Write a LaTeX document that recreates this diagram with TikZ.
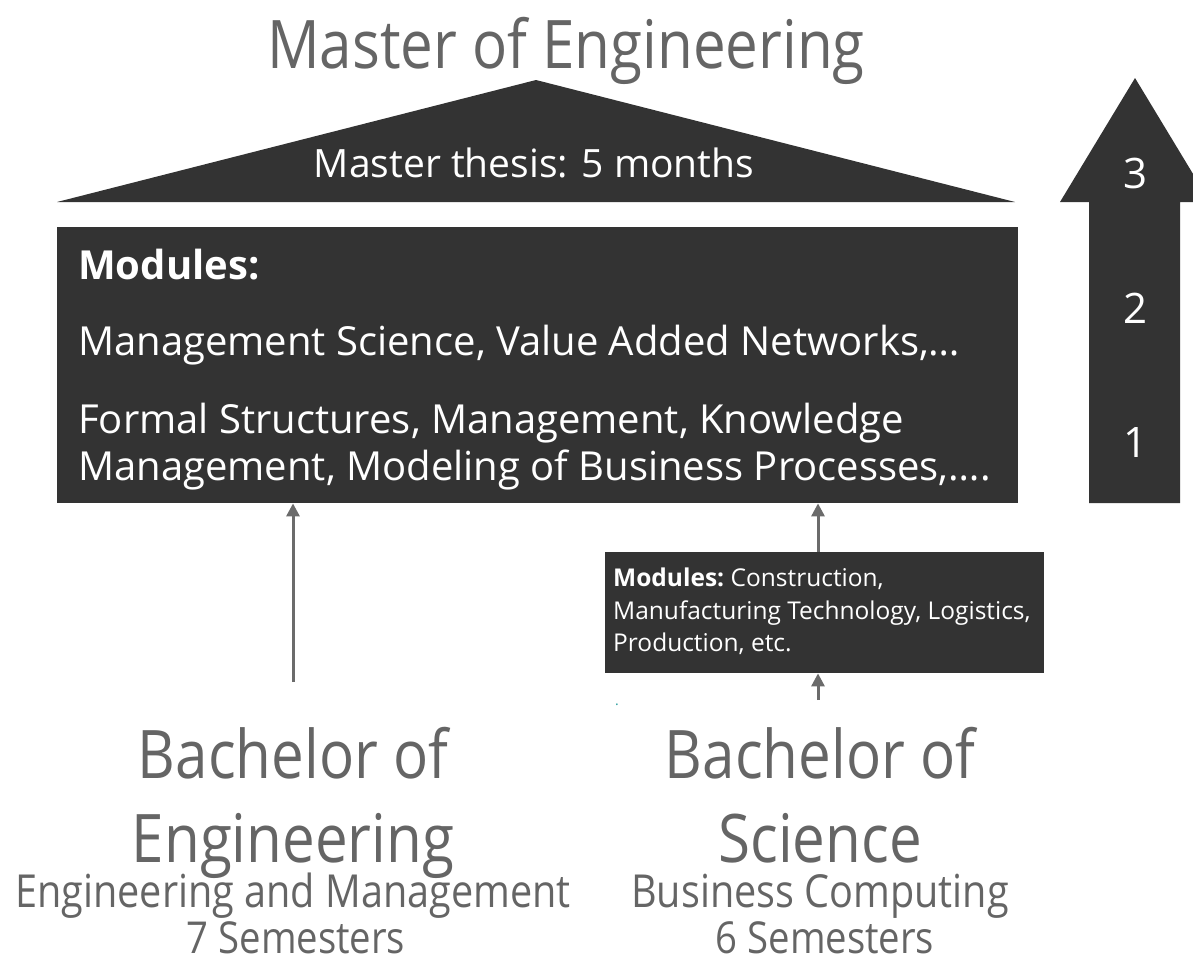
\documentclass[tikz,border=0pt]{standalone}
\usepackage{fontspec}
\setmainfont{Open Sans}
\newfontfamily\narrowfont[FakeStretch=0.87]{Open Sans}
\usetikzlibrary{arrows.meta}
\definecolor{boxdark}{HTML}{333333}
\definecolor{txtgray}{HTML}{656565}
\definecolor{arrgray}{HTML}{6B6B6B}
\definecolor{tealdot}{HTML}{2A9D9D}
\begin{document}
\begin{tikzpicture}[x=1pt,y=-1pt,
  graytxt/.style={text=txtgray,inner sep=0pt,anchor=base},
  whitetxt/.style={text=white,inner sep=0pt,anchor=base west},
  upconn/.style={draw=arrgray,line width=3pt,-{Triangle[length=13pt,width=13pt]}},
  darkshape/.style={fill=boxdark,draw=none}]
\useasboundingbox (0,0) rectangle (1193,962);
% title
\node[graytxt,font=\narrowfont\fontsize{67}{67}\selectfont] (title) at (566,68) {Master of Engineering};
% roof
\fill[darkshape] (57,202) -- (536,80) -- (1015,202) -- cycle;
\node[graytxt,text=white,font=\fontsize{39}{39}\selectfont] (thesis) at (534,177) {Master thesis: 5 months};
% main box
\node[darkshape,minimum width=961pt,minimum height=276pt,anchor=north west,inner sep=0pt] (main) at (57,227) {};
\node[whitetxt,font=\fontsize{40}{40}\selectfont\bfseries] (modA) at (78,279) {Modules:};
\node[whitetxt,font=\fontsize{40}{40}\selectfont] (modB) at (78,355) {Management Science, Value Added Networks,…};
\node[whitetxt,font=\fontsize{40}{40}\selectfont] (modC) at (78,433) {Formal Structures, Management, Knowledge};
\node[whitetxt,font=\fontsize{40}{40}\selectfont] (modD) at (78,480) {Management, Modeling of Business Processes,….};
% small box
\node[darkshape,minimum width=439pt,minimum height=121pt,anchor=north west,inner sep=0pt] (small) at (605,552) {};
\node[whitetxt,font=\fontsize{24.5}{24.5}\selectfont] (smA) at (613,586) {\textbf{Modules:}\hspace{-2pt} Construction,};
\node[whitetxt,font=\fontsize{24.5}{24.5}\selectfont] (smB) at (613,619) {Manufacturing Technology, Logistics,};
\node[whitetxt,font=\fontsize{24.5}{24.5}\selectfont] (smC) at (613,651) {Production, etc.};
\node[text=tealdot,inner sep=0pt,anchor=base,font=\fontsize{14}{14}\selectfont] (dot) at (617,705) {.};
% big arrow
\fill[darkshape] (1089,503) -- (1089,202) -- (1060,202) -- (1135,78) -- (1210,202) -- (1180,202) -- (1180,503) -- cycle;
\node[graytxt,text=white,font=\fontsize{42}{42}\selectfont] (n3) at (1135,188) {3};
\node[graytxt,text=white,font=\fontsize{42}{42}\selectfont] (n2) at (1135,323) {2};
\node[graytxt,text=white,font=\fontsize{42}{42}\selectfont] (n1) at (1135,457) {1};
% bachelor texts
\node[graytxt,font=\narrowfont\fontsize{67}{67}\selectfont] (beA) at (293,778) {Bachelor of};
\node[graytxt,font=\narrowfont\fontsize{67}{67}\selectfont] (beB) at (293,862) {Engineering};
\node[graytxt,font=\narrowfont\fontsize{45.5}{45.5}\selectfont] (beC) at (293,907) {Engineering and Management};
\node[graytxt,font=\narrowfont\fontsize{44}{44}\selectfont] (beD) at (296,953) {7 Semesters};
\node[graytxt,font=\narrowfont\fontsize{67}{67}\selectfont] (bsA) at (820,778) {Bachelor of};
\node[graytxt,font=\narrowfont\fontsize{67}{67}\selectfont] (bsB) at (820,862) {Science};
\node[graytxt,font=\narrowfont\fontsize{45.5}{45.5}\selectfont] (bsC) at (820,907) {Business Computing};
\node[graytxt,font=\narrowfont\fontsize{44}{44}\selectfont] (bsD) at (825,953) {6 Semesters};
% connectors
\coordinate (leftfoot) at (293,682);
\coordinate (rightfoot) at (818,700);
\draw[upconn] (leftfoot) -- (main.south -| leftfoot);
\draw[upconn] (small.north -| rightfoot) -- (main.south -| rightfoot);
\draw[upconn] (rightfoot) -- (small.south -| rightfoot);
\end{tikzpicture}
\end{document}
